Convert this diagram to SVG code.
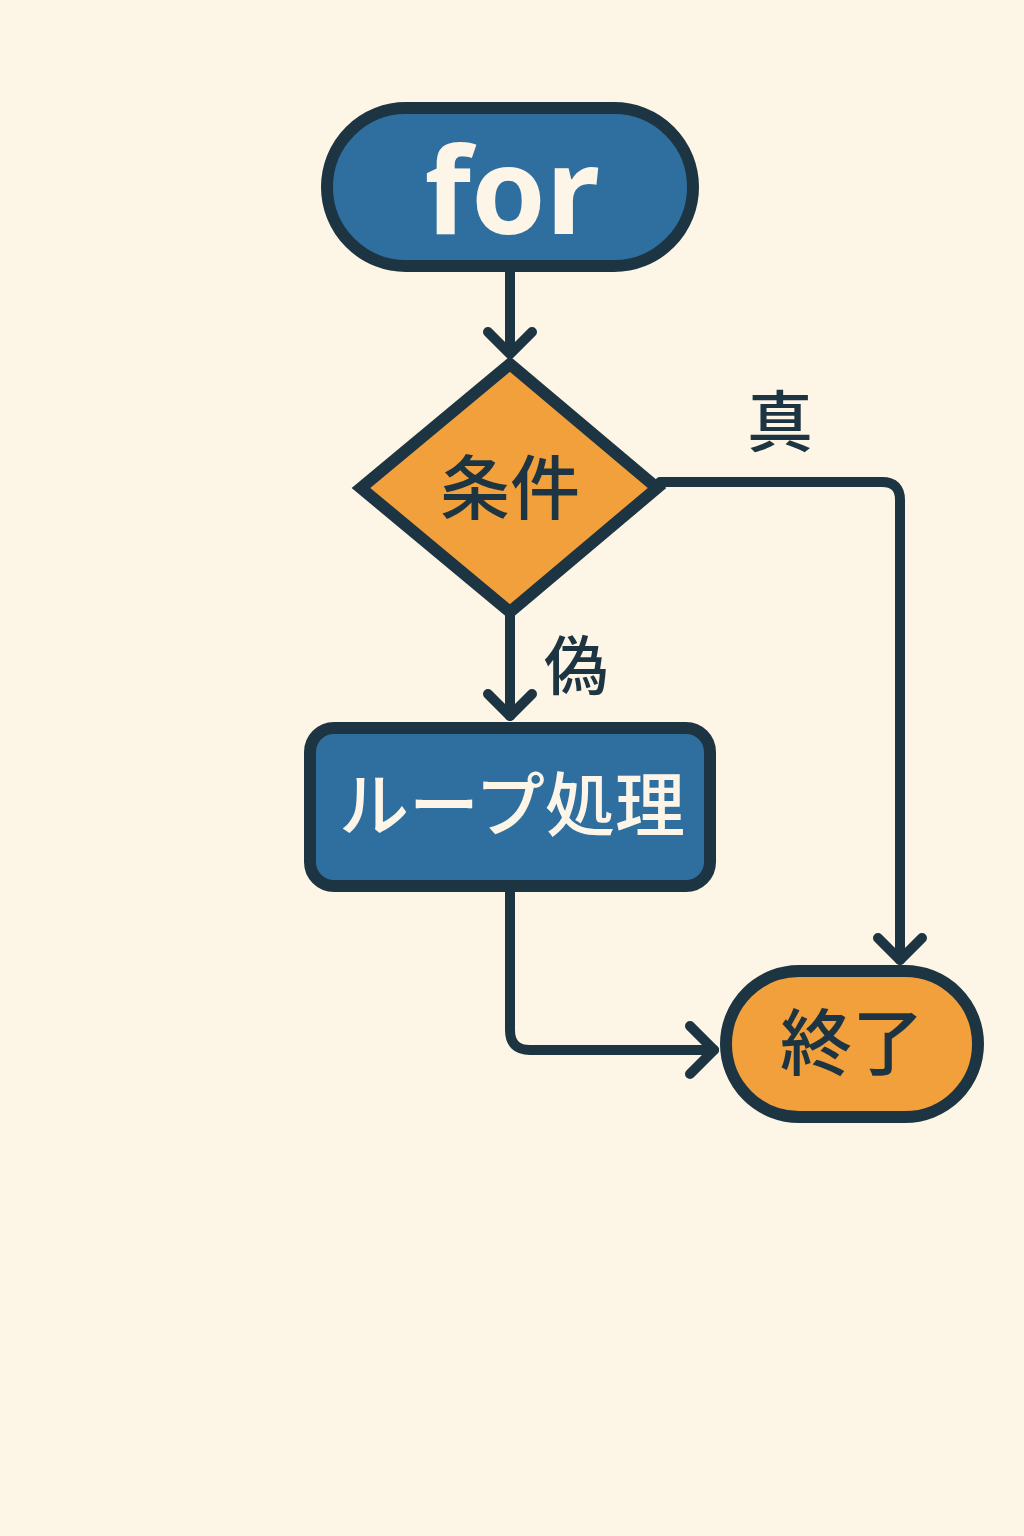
<svg xmlns="http://www.w3.org/2000/svg" width="1024" height="1536" viewBox="0 0 1024 1536">
<style>
.node{stroke:#1d3542;stroke-width:12}
.blue{fill:#2f6f9f}
.orange{fill:#f1a03c}
.conn{fill:none;stroke:#1d3542;stroke-width:10;stroke-linecap:round;stroke-linejoin:round}
.jp{font-family:"Noto Sans CJK JP","Noto Sans",sans-serif;font-weight:500;text-anchor:middle}
.lt{fill:#fdf6e8}
.dk{fill:#1d3542}
</style>
<rect width="1024" height="1536" fill="#fdf5e6"/>
<g id="connectors">
<path class="conn" d="M510 272 V352"/>
<path class="conn" d="M488 332 L510 354 L532 332"/>
<path class="conn" d="M660 482 H882 Q900 482 900 500 V960"/>
<path class="conn" d="M878 938 L900 960 L922 938"/>
<path class="conn" d="M510 614 V716"/>
<path class="conn" d="M488 694 L510 716 L532 694"/>
<path class="conn" d="M510 890 V1030 Q510 1050 530 1050 H714"/>
<path class="conn" d="M690 1026 L714 1050 L690 1074"/>
</g>
<g id="start">
<rect class="node blue" x="327" y="108" width="366" height="158" rx="79"/>
<text x="512" y="234" font-family="'Noto Sans','Liberation Sans',sans-serif" font-weight="700" font-size="120" text-anchor="middle" class="lt">for</text>
</g>
<g id="cond">
<polygon class="node orange" points="510,364 657,488 510,612 361,488"/>
<text x="510" y="514" font-size="70" class="jp dk">条件</text>
</g>
<g id="label-true">
<text x="780" y="446" font-size="66" class="jp dk">真</text>
</g>
<g id="label-false">
<text x="576" y="689" font-size="64" class="jp dk">偽</text>
</g>
<g id="loop">
<rect class="node blue" x="310" y="728" width="400" height="158" rx="24"/>
<text x="512" y="831" font-size="70" class="jp lt">ループ処理</text>
</g>
<g id="end">
<rect class="node orange" x="726" y="971" width="252" height="146" rx="73"/>
<text x="852" y="1069" font-size="72" class="jp dk">終了</text>
</g>
</svg>
